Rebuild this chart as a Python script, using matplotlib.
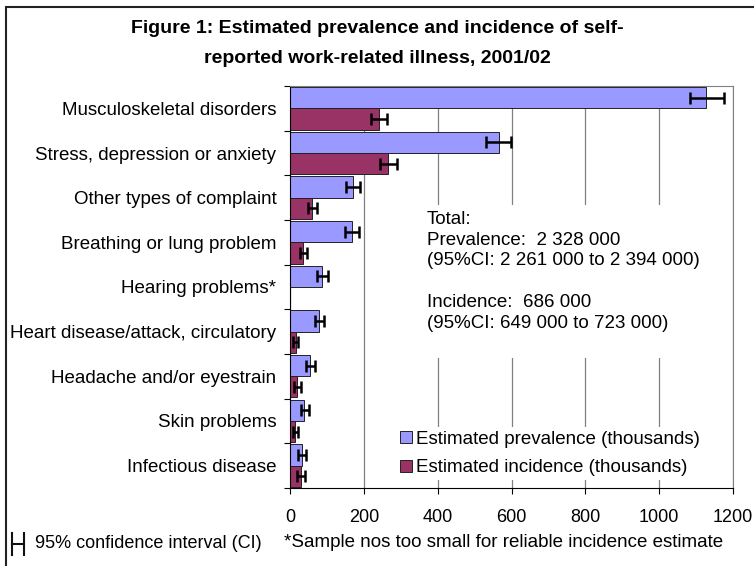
import numpy as np
import matplotlib
matplotlib.use('Agg')
import matplotlib.pyplot as plt
from matplotlib.patches import Rectangle
from matplotlib.lines import Line2D

plt.rcParams['font.family'] = ['Liberation Sans', 'DejaVu Sans']

# data (thousands)
illness = ['Musculoskeletal disorders', 'Stress, depression or anxiety',
           'Other types of complaint', 'Breathing or lung problem',
           'Hearing problems*', 'Heart disease/attack, circulatory',
           'Headache and/or eyestrain', 'Skin problems', 'Infectious disease']
prev = [1128, 565, 171, 167, 87, 79, 54, 38, 32]
prev_lo = [1083, 530, 150, 147, 72, 67, 42, 28, 22]
prev_hi = [1175, 598, 189, 187, 101, 92, 66, 50, 43]
inc = [241, 264, 60, 35, np.nan, 15, 19, 13, 30]
inc_lo = [219, 242, 48, 26, np.nan, 6, 10, 6, 19]
inc_hi = [263, 289, 72, 44, np.nan, 22, 28, 20, 40]
xticks = [0, 200, 400, 600, 800, 1000, 1200]

prev = np.array(prev, dtype=float)
inc = np.array(inc, dtype=float)
prev_err = [prev - np.array(prev_lo), np.array(prev_hi) - prev]
inc_err = [inc - np.array(inc_lo, dtype=float), np.array(inc_hi, dtype=float) - inc]

fs = 13.5

fig = plt.figure(figsize=(7.54, 5.66), dpi=100)
ax = fig.add_axes([0.385, 0.138, 0.587, 0.71])

y = np.arange(len(illness))
h = 0.475
ax.barh(y - h / 2, prev, height=h, color='#9999FF', edgecolor='#222222', linewidth=0.7,
        label='Estimated prevalence (thousands)', zorder=2)
ax.barh(y + h / 2, inc, height=h, color='#993366', edgecolor='#222222', linewidth=0.7,
        label='Estimated incidence (thousands)', zorder=2)
ek = dict(fmt='none', ecolor='black', elinewidth=1.8, capsize=4.5, capthick=1.8, zorder=3)
ax.errorbar(prev, y - h / 2, xerr=prev_err, **ek)
ax.errorbar(inc, y + h / 2, xerr=inc_err, **ek)

ax.set_xlim(0, 1200)
ax.set_ylim(len(illness) - 0.5, -0.5)
ax.set_xticks(xticks)
ax.set_xticklabels([str(t) for t in xticks], fontsize=13)
ax.tick_params(axis='x', length=4, width=0.8, pad=11)
ax.set_yticks(np.arange(len(illness) + 1) - 0.5)
ax.set_yticklabels([])
ax.set_yticks(y, minor=True)
ax.set_yticklabels(illness, minor=True, fontsize=fs)
ax.tick_params(axis='y', which='major', length=4, width=0.8)
ax.tick_params(axis='y', which='minor', length=0, pad=10)

ax.set_axisbelow(True)
ax.grid(axis='x', color='#808080', linewidth=0.9)
ax.spines['top'].set_color('#808080')
ax.spines['right'].set_color('#808080')

# white box behind the totals text
ax.add_patch(Rectangle((0.245, 0.323), 0.72, 0.382, transform=ax.transAxes,
                       facecolor='white', edgecolor='none', zorder=1))
txt = ('Total:\nPrevalence:  2 328 000\n(95%CI: 2 261 000 to 2 394 000)\n\n'
       'Incidence:  686 000\n(95%CI: 649 000 to 723 000)')
ax.text(0.309, 0.69, txt, transform=ax.transAxes, fontsize=fs, va='top',
        linespacing=1.3, zorder=4)

leg = ax.legend(loc='upper left', bbox_to_anchor=(0.24, 0.152), fontsize=fs,
                frameon=True, fancybox=False, framealpha=1, edgecolor='none',
                handlelength=0.6, handleheight=0.6, handletextpad=0.25,
                labelspacing=0.62, borderpad=0.2, borderaxespad=0)
leg.set_zorder(4)

fig.text(0.5, 0.95, 'Figure 1: Estimated prevalence and incidence of self-',
         ha='center', va='center', fontsize=14, fontweight='bold')
fig.text(0.5, 0.897, 'reported work-related illness, 2001/02',
         ha='center', va='center', fontsize=14, fontweight='bold')

# CI key symbol, drawn like a bar with caps
ck = dict(color='#111111', linewidth=1.5, transform=fig.transFigure)
fig.add_artist(Line2D([0.0155, 0.0155], [0.020, 0.058], **ck))
fig.add_artist(Line2D([0.032, 0.032], [0.020, 0.058], **ck))
fig.add_artist(Line2D([0.0155, 0.032], [0.039, 0.039], **ck))
fig.text(0.046, 0.039, '95% confidence interval (CI)', fontsize=13, va='center', ha='left')
fig.text(0.377, 0.041, '*Sample nos too small for reliable incidence estimate',
         fontsize=fs, va='center', ha='left')

# outer frame
fig.add_artist(Rectangle((0.008, -0.05), 1.2, 1.038, transform=fig.transFigure,
                         facecolor='none', edgecolor='#222222', linewidth=1.5))

fig.savefig('out.png', dpi=100)
